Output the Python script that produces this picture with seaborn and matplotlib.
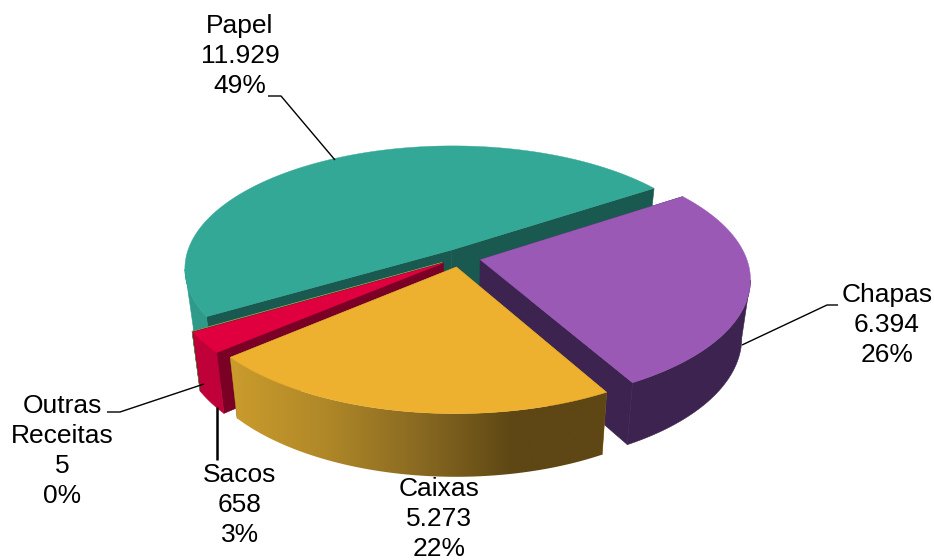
import numpy as np
import seaborn as sns
import matplotlib
matplotlib.use("Agg")
import matplotlib.pyplot as plt
from matplotlib.patches import Polygon

# Receita por produto
categories = ["Papel", "Outras\nReceitas", "Sacos", "Caixas", "Chapas"]
values = [11929, 5, 658, 5273, 6394]
top_colors = ["#33a896", "#7d9a5a", "#e0003f", "#edb02f", "#9b59b6"]
rim_colors = ["#2e9b8a", "#5f7a45", "#c00038", None, "#3d2450"]
cut_colors = ["#1a5950", "#4a5c34", "#7a0026", "#8a6a22", "#3d2450"]
draw_order = [0, 1, 4, 2, 3]

sns.set_theme(style="white", rc={"font.family": ["Liberation Sans", "DejaVu Sans"]})

# Projecao em perspectiva do disco
CX, CY = 460.0, 257.5
RX, RY = 266.0, 121.7
PERSP = 0.149
DEPTH = 57.0
SHRINK = 0.97
EXPLODE = 0.078
START = 34.0
PAPEL_OFFSET = (-0.032, 0.062)


def project(u, v, base=False):
    s = 1.0 / (1.0 + PERSP * v)
    x, y = RX * u * s, RY * v * s
    if base:
        return CX + x * SHRINK, CY - y * SHRINK + DEPTH * s
    return CX + x, CY - y


fig = plt.figure(figsize=(9.34, 5.6), dpi=100)
ax = fig.add_axes([0, 0, 1, 1])

fractions = np.array(values, dtype=float) / sum(values)
edges = START + 360.0 * np.concatenate([[0], np.cumsum(fractions)])
gold_wall = np.array(sns.blend_palette(
    ["#cb9c2d", "#b08828", "#8a6a22", "#5e4714", "#5e4714"], 256))[None, :, :]

for order, i in enumerate(draw_order):
    z = 1.0 + 0.1 * order
    a0, a1 = np.radians(edges[i]), np.radians(edges[i + 1])
    mid = 0.5 * (a0 + a1)
    ou, ov = EXPLODE * np.cos(mid), EXPLODE * np.sin(mid)
    if categories[i] == "Papel":
        ou, ov = PAPEL_OFFSET
    t = np.linspace(a0, a1, max(int(np.degrees(a1 - a0) * 3), 3))
    us, vs = ou + np.cos(t), ov + np.sin(t)
    top_xy = np.array([project(a, b) for a, b in zip(us, vs)])
    base_xy = np.array([project(a, b, True) for a, b in zip(us, vs)])

    # faces de corte
    for ue, ve in [(us[0], vs[0]), (us[-1], vs[-1])]:
        quad = [project(ou, ov), project(ue, ve), project(ue, ve, True), project(ou, ov, True)]
        ax.add_patch(Polygon(quad, closed=True, fc=cut_colors[i], ec=cut_colors[i], lw=0.4, zorder=z))

    # parede externa, apenas o trecho voltado para o observador
    facing = np.gradient(top_xy[:, 0]) > 0
    if facing.sum() >= 2:
        wall = np.vstack([top_xy[facing], base_xy[facing][::-1]])
        if rim_colors[i] is not None:
            ax.add_patch(Polygon(wall, closed=True, fc=rim_colors[i], ec=rim_colors[i], lw=0.4,
                                 zorder=z + 0.01))
        else:
            shape = Polygon(wall, closed=True, fc="none", ec="none", zorder=z)
            ax.add_patch(shape)
            grad = ax.imshow(gold_wall, aspect="auto", interpolation="bilinear", zorder=z + 0.01,
                             extent=(wall[:, 0].min(), wall[:, 0].max(),
                                     wall[:, 1].max(), wall[:, 1].min()))
            grad.set_clip_path(shape)

    # tampa
    top = np.vstack([[project(ou, ov)], top_xy])
    ax.add_patch(Polygon(top, closed=True, fc=top_colors[i], ec=top_colors[i], lw=0.3, zorder=z + 0.02))

ax.set_xlim(0, 934)
ax.set_ylim(560, 0)
ax.axis("off")

# Rotulos com valor e percentual
label_pos = {
    "Papel": (240, 56),
    "Outras\nReceitas": (62, 451),
    "Sacos": (240, 505),
    "Caixas": (439, 519),
    "Chapas": (887, 325),
}
for name, val, frac in zip(categories, values, fractions):
    text = f"{name}\n{val:,}\n{frac * 100:.0f}%".replace(",", ".")
    x, y = label_pos[name]
    ax.text(x, y, text, ha="center", va="center", fontsize=19, color="black",
            linespacing=1.33, multialignment="center", zorder=5)

# Linhas de chamada
leaders = [
    ([335, 281, 268], [160, 96, 96], 1.0),
    ([742, 827, 838], [345, 305, 305], 1.0),
    ([204, 120, 107], [384, 412, 412], 1.0),
    ([217, 217], [407, 460], 1.8),
]
for lx, ly, lw in leaders:
    ax.plot(lx, ly, color="black", lw=lw, solid_capstyle="butt", zorder=4)

fig.savefig("out.png", dpi=100)
